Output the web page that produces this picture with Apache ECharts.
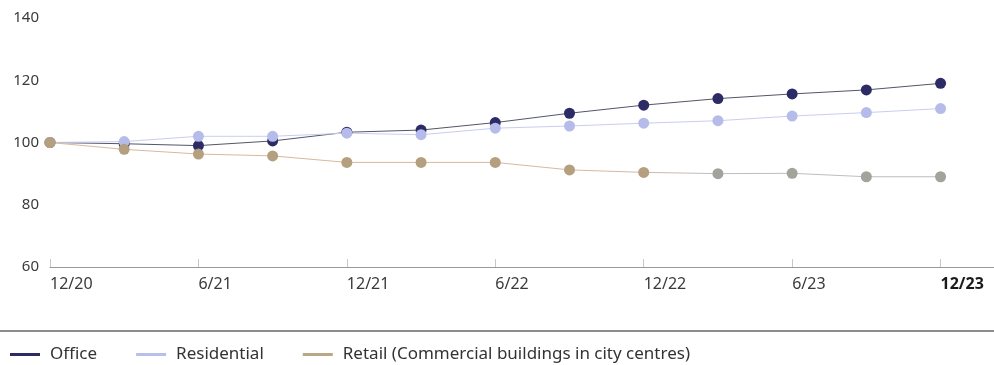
<!DOCTYPE html>
<html>
<head>
<meta charset="utf-8">
<script src="https://cdn.jsdelivr.net/npm/echarts@6/dist/echarts.min.js"></script>
<style>
  html, body { margin: 0; padding: 0; background: #fff; }
  #chart { width: 994px; height: 365px; }
</style>
</head>
<body>
<div id="chart"></div>
<script>
const periods = ["12/20", "3/21", "6/21", "9/21", "12/21", "3/22", "6/22", "9/22", "12/22", "3/23", "6/23", "9/23", "12/23"];
const office = [100, 99.6, 99.0, 100.5, 103.3, 104.0, 106.4, 109.4, 112.0, 114.1, 115.6, 116.9, 119.0];
const residential = [100, 100.3, 102.0, 102.0, 103.0, 102.5, 104.6, 105.3, 106.2, 107.0, 108.5, 109.6, 110.9];
const retail = [100, 97.8, 96.3, 95.7, 93.6, 93.6, 93.6, 91.2, 90.4, 90.0, 90.1, 89.0, 89.0];
const yTicks = [60, 80, 100, 120, 140];

const font = "'Noto Sans', Lato, sans-serif";
const toPairs = (arr) => arr.map((v, i) => [i, v]);

const chart = echarts.init(document.getElementById("chart"));
chart.setOption({
  animation: false,
  backgroundColor: "#fff",
  textStyle: { fontFamily: font },
  grid: { left: 50, right: 0, top: 18, bottom: 98 },
  xAxis: {
    type: "value",
    min: 0,
    max: 12.72,
    interval: 2,
    splitLine: { show: false },
    axisLine: { lineStyle: { color: "#9a9a9a", width: 1 } },
    axisTick: { show: true, inside: true, length: 8, lineStyle: { color: "#c8c8c8" } },
    axisLabel: {
      showMaxLabel: false,
      color: "#3a3a3a",
      fontSize: 16,
      fontFamily: font,
      align: "left",
      margin: 9,
      formatter: (v) => {
        if (v !== Math.round(v)) return "";
        const label = periods[v] || "";
        return v === periods.length - 1 ? "{b|" + label + "}" : label;
      },
      rich: { b: { fontWeight: "bold", color: "#1a1a1a", fontSize: 16, fontFamily: font } }
    }
  },
  yAxis: {
    type: "value",
    min: yTicks[0],
    max: yTicks[yTicks.length - 1],
    interval: 20,
    splitLine: { show: false },
    axisLine: { show: false },
    axisTick: { show: false },
    axisLabel: { color: "#3a3a3a", fontSize: 15, fontFamily: font, margin: 11 }
  },
  legend: {
    left: 5,
    top: 341,
    itemGap: 39,
    itemWidth: 30,
    itemHeight: 3,
    icon: "rect",
    textStyle: { color: "#333", fontSize: 17, fontFamily: font, padding: [0, 0, 0, 5] },
    data: [
      { name: "Office", itemStyle: { color: "#2c2b66" } },
      { name: "Residential", itemStyle: { color: "#b9bfea" } },
      { name: "Retail (Commercial buildings in city centres)", itemStyle: { color: "#b8a888" } }
    ]
  },
  graphic: [{
    type: "line",
    shape: { x1: 0, y1: 331, x2: 994, y2: 331 },
    style: { stroke: "#666", lineWidth: 1.5 }
  }],
  series: [
    {
      name: "Office",
      type: "line",
      data: toPairs(office),
      symbol: "circle",
      symbolSize: 11,
      lineStyle: { width: 1, color: "#55556a" },
      itemStyle: { color: "#2c2b66" }
    },
    {
      name: "Residential",
      type: "line",
      data: toPairs(residential),
      symbol: "circle",
      symbolSize: 11,
      lineStyle: { width: 1, color: "#c9cdf0" },
      itemStyle: { color: "#b6bcea" }
    },
    {
      name: "Retail (Commercial buildings in city centres)",
      type: "line",
      data: toPairs(retail),
      symbol: "circle",
      symbolSize: 11,
      lineStyle: {
        width: 1,
        color: {
          type: "linear", x: 0, y: 0, x2: 1, y2: 0,
          colorStops: [
            { offset: 0, color: "#d8b898" },
            { offset: 0.6, color: "#d8b8a0" },
            { offset: 0.75, color: "#bdbdbd" },
            { offset: 1, color: "#bdbdbd" }
          ]
        }
      },
      itemStyle: {
        color: (p) => (p.dataIndex < 9 ? "#b4a07e" : "#a3a39c")
      }
    }
  ]
});
</script>
</body>
</html>
